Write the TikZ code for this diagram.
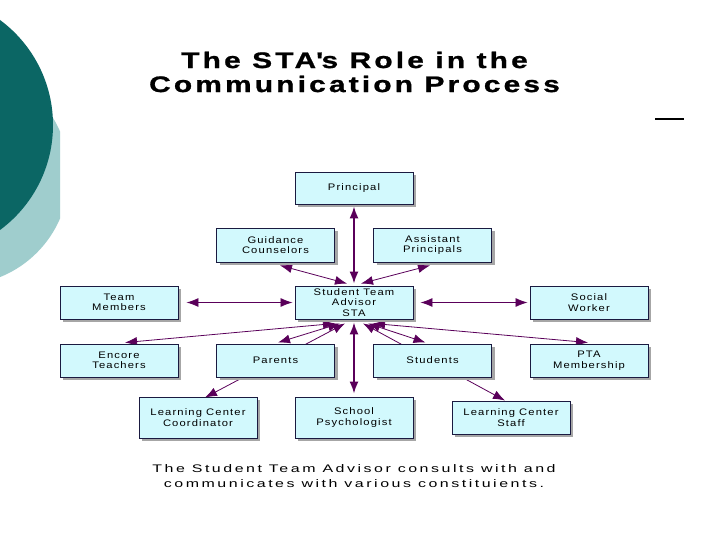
\documentclass[tikz,border=0pt]{standalone}
\usepackage{fontspec}
\setmainfont{Liberation Sans}
\newfontfamily\boxfont[FakeStretch=1.18,LetterSpace=12]{Liberation Sans}
\newfontfamily\headfont[FakeStretch=1.33,LetterSpace=14,FakeBold=1]{Liberation Sans}
\newfontfamily\notefont[FakeStretch=1.45,LetterSpace=23]{Liberation Sans}
\usetikzlibrary{calc,arrows.meta,shadows,backgrounds}
\definecolor{stadeep}{HTML}{0B6664}
\definecolor{stapale}{HTML}{9FCDCD}
\definecolor{stabox}{HTML}{D2F9FD}
\definecolor{staline}{HTML}{1A1A40}
\definecolor{staplum}{HTML}{5A005A}

\begin{document}
\begin{tikzpicture}[x=1bp,y=-1bp,
  rb/.style={draw=staline,line width=0.9bp,fill=stabox,minimum width=118bp,minimum height=33bp,inner sep=1bp,
  align=center,font=\boxfont\fontsize{9.5bp}{10.5bp}\selectfont,
  drop shadow={shadow xshift=3bp,shadow yshift=-3bp,fill=gray!70,opacity=1}},
  lk/.style={draw=staplum,line width=0.8bp,{Latex[length=12bp,width=9bp]}-{Latex[length=12bp,width=9bp]}},
  lkb/.style={lk,line width=1.6bp}]
\useasboundingbox (0,0) rectangle (720,540);
\draw[black,line width=2.5bp] (655,119) -- (684,119);
% heading and note
\node[align=center,font=\headfont\bfseries\fontsize{22.5bp}{24bp}\selectfont] (title) at (354.5,72) {The STA\textquotesingle s Role in the\\Communication Process};
\node[align=center,font=\notefont\fontsize{11bp}{15bp}\selectfont] (note) at (354,476.5) {The Student Team Advisor consults with and\\communicates with various constituients.};
% boxes
\node[rb,minimum height=32bp] (prin) at (354,188) {Principal};
\node[rb,minimum height=34bp] (guid) at (275.5,245) {Guidance\\Counselors};\node[rb,minimum height=34bp] (asst) at (432.5,245) {Assistant\\Principals};
\node[rb] (team) at (119,302.5) {Team\\Members};\node[rb] (sta) at (354,302.5) {Student Team\\Advisor\\STA};\node[rb] (soc) at (589,302.5) {Social\\Worker};
\node[rb] (enc) at (119,360.5) {Encore\\Teachers};\node[rb] (par) at (275.5,360.5) {Parents};\node[rb] (stu) at (432.5,360.5) {Students};\node[rb] (pta) at (589,360.5) {PTA\\Membership};
\node[rb,minimum height=41bp] (lcc) at (198,417.5) {Learning Center\\Coordinator};\node[rb,minimum height=41bp] (psy) at (354,417.5) {School\\Psychologist};\node[rb] (lcs) at (511,417.5) {Learning Center\\Staff};
% slide corner and links
\begin{scope}[on background layer]
\fill[white] (0,0) rectangle (720,540);
\begin{scope}
\clip (0,0) rectangle (60,540);
\fill[stapale] (-41,175) circle (110);
\end{scope}
\fill[stadeep] (-77.5,125) circle (130.5);
\draw[lkb] ($(sta.north)+(0,-2)$) -- ($(prin.south)+(0,2)$);
\draw[lk] ($(sta.north)+(-7,-2)$) -- ($(guid.south)+(4.5,3)$);\draw[lk] ($(sta.north)+(7,-2)$) -- ($(asst.south)+(-2.5,3)$);
\draw[lk] ($(sta.west)+(-2,0)$) -- ($(team.east)+(8,0)$);\draw[lk] ($(sta.east)+(7,0)$) -- ($(soc.west)+(-2,0)$);
\draw[lk] ($(sta.south)+(-19,4)$) -- ($(enc.north)+(6,-1)$);\draw[lk] ($(sta.south)+(-14,4)$) -- ($(par.north)+(2.5,-1)$);
\draw[lk] ($(sta.south)+(-9,4)$) -- ($(lcc.north)+(7,1)$);\draw[lkb] ($(sta.south)+(0,3)$) -- ($(psy.north)+(0,-3)$);
\draw[lk] ($(sta.south)+(9,4)$) -- ($(lcs.north)+(-6,0)$);\draw[lk] ($(sta.south)+(14,4)$) -- ($(stu.north)+(-7,-1)$);
\draw[lk] ($(sta.south)+(19,4)$) -- ($(pta.north)+(-1,-1)$);
\end{scope}
\end{tikzpicture}
\end{document}
